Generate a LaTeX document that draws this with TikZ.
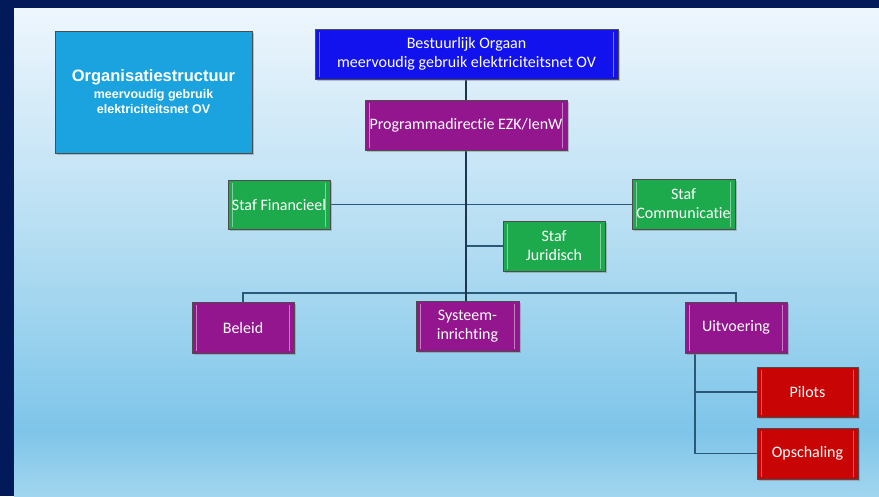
\documentclass[tikz,border=0pt]{standalone}
\usepackage{fontspec}
\setmainfont[Ligatures={NoCommon}]{Carlito}
\newfontfamily\titlefont{Liberation Sans}
\usetikzlibrary{shadows}
\definecolor{navy}{HTML}{031A5A}
\definecolor{bgA}{HTML}{EEF6FD}
\definecolor{bgB}{HTML}{B2DCF2}
\definecolor{bgC}{HTML}{7EC5E9}
\definecolor{bgD}{HTML}{A2D5EF}
\definecolor{titleblue}{HTML}{1AA3DE}
\definecolor{orgblue}{HTML}{1212EE}
\definecolor{purp}{HTML}{93168F}
\definecolor{grn}{HTML}{1CAA4C}
\definecolor{redb}{HTML}{C80404}
\definecolor{lineC}{HTML}{2A5878}
\definecolor{mainC}{HTML}{1C3550}
\pgfdeclarelayer{bg}
\pgfdeclarelayer{lines}
\pgfsetlayers{bg,lines,main}
\tikzset{
  box/.style 2 args={draw=black!70, line width=0.9pt, fill=#1, text=white,
    drop shadow={shadow xshift=2pt, shadow yshift=-2pt, opacity=0.45},
    align=center, inner sep=0pt, font=\fontsize{16}{19}\selectfont,
    path picture={\draw[line width=1.1pt,#2]
      ([xshift=4.5pt,yshift=-2.5pt]path picture bounding box.north west) --
      ([xshift=4.5pt,yshift=2.5pt]path picture bounding box.south west);
      \draw[line width=1.1pt,#2]
      ([xshift=-4.5pt,yshift=-2.5pt]path picture bounding box.north east) --
      ([xshift=-4.5pt,yshift=2.5pt]path picture bounding box.south east);}},
  sz/.style 2 args={minimum width=#1pt, minimum height=#2pt},
  conn/.style={draw=lineC, line width=1.4pt},
  mainline/.style={draw=mainC, line width=2.6pt}
}
\begin{document}
\begin{tikzpicture}[x=1pt,y=-1pt]
\useasboundingbox (0,0) rectangle (879,496);
\begin{pgfonlayer}{bg}
\fill[navy] (0,0) rectangle (879,496);
\shade[top color=bgA, bottom color=bgB] (14,8) rectangle (879,250.5);
\shade[top color=bgB, bottom color=bgC] (14,250) rectangle (879,430.5);
\shade[top color=bgC, bottom color=bgD] (14,430) rectangle (879,496);
\end{pgfonlayer}

% nodes
\node[box={titleblue}{titleblue}, sz={197}{122}, font=\titlefont\bfseries\fontsize{12.5}{15}\selectfont] (title) at (153.5,92)
  {{\fontsize{16.5}{19}\selectfont Organisatiestructuur}\\[2pt]
   meervoudig gebruik\\
   elektriciteitsnet OV};
\node[box={orgblue}{white!45!orgblue}, sz={303}{50}] (best) at (466.5,54)
  {Bestuurlijk Orgaan\\meervoudig gebruik elektriciteitsnet OV};
\node[box={purp}{white!45!purp}, sz={202}{50}] (prog) at (466,125) {Programmadirectie EZK/IenW};
\node[box={grn}{white!45!grn}, sz={102}{49}] (fin) at (279,204.5) {Staf Financieel};
\node[box={grn}{white!45!grn}, sz={103}{50}] (comm) at (683.5,204) {Staf\\Communicatie};
\node[box={grn}{white!45!grn}, sz={102}{50}] (jur) at (554,246) {Staf\\Juridisch};
\node[box={purp}{white!45!purp}, sz={102}{51}] (bel) at (243,327.5) {Beleid};
\node[box={purp}{white!45!purp}, sz={103}{50}] (sys) at (467.5,326) {Systeem-\\inrichting};
\node[box={purp}{white!45!purp}, sz={102}{51}] (uit) at (736,327.5) {Uitvoering};
\node[box={redb}{white!35!redb}, sz={101}{50}] (pil) at (807.5,392) {Pilots};
\node[box={redb}{white!35!redb}, sz={101}{51}] (ops) at (807.5,453.5) {Opschaling};

% coordinates
\coordinate (busM) at (466,293);
\coordinate (jurM) at (466,246);
\coordinate (uitTop) at (695,353);
\coordinate (uitP) at (695,392);
\coordinate (uitO) at (695,453.5);

% connectors
\begin{pgfonlayer}{lines}
\draw[conn] (fin.east) -- (fin.east -| comm.west);
\draw[conn] (jurM) -- (jur.west);
\draw[conn] (bel.north) |- (busM) -| (uit.north);
\draw[mainline] (best.south -| busM) -- (busM) -- (busM |- sys.north);
\draw[conn] (uitTop) -- (uitO) -- (ops.west);
\draw[conn] (uitP) -- (pil.west);
\end{pgfonlayer}
\end{tikzpicture}
\end{document}
